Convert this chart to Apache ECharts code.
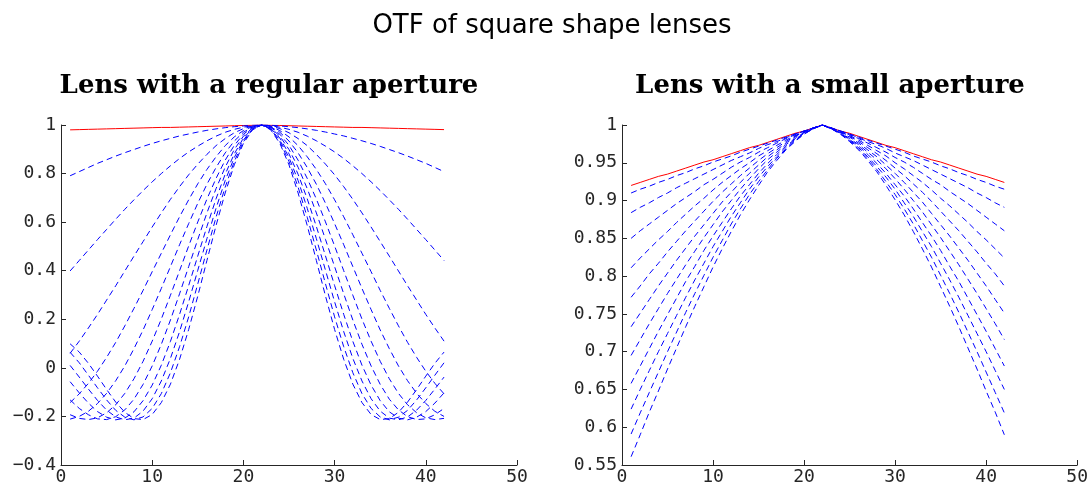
<!DOCTYPE html>
<html>
<head>
<meta charset="utf-8">
<script src="https://cdn.jsdelivr.net/npm/echarts@6/dist/echarts.min.js"></script>
<style>
html,body{margin:0;padding:0;background:#fff;}
#chart{width:1091px;height:486px;}
</style>
</head>
<body>
<div id="chart"></div>
<script>
// sample positions (x axis), shared by every curve
const xValues = [1,2,3,4,5,6,7,8,9,10,11,12,13,14,15,16,17,18,19,20,21,22,23,24,25,26,27,28,29,30,31,32,33,34,35,36,37,38,39,40,41,42];

// ---- Lens with a regular aperture ----
const regularFocus = [0.980,0.981,0.982,0.983,0.984,0.985,0.986,0.987,0.988,0.989,0.990,0.990,0.991,0.992,0.993,0.994,0.995,0.996,0.997,0.998,0.999,1,0.999,0.998,0.997,0.996,0.995,0.994,0.993,0.992,0.991,0.990,0.990,0.989,0.988,0.987,0.986,0.985,0.984,0.983,0.982,0.981];
const regular1 = [0.791,0.808,0.825,0.842,0.857,0.872,0.886,0.899,0.912,0.924,0.935,0.945,0.955,0.963,0.971,0.978,0.984,0.989,0.993,0.996,0.999,1,0.999,0.996,0.993,0.989,0.984,0.978,0.971,0.963,0.955,0.945,0.935,0.924,0.912,0.899,0.886,0.872,0.857,0.842,0.825,0.808];
const regular2 = [0.399,0.442,0.485,0.528,0.570,0.612,0.653,0.692,0.730,0.766,0.800,0.832,0.862,0.889,0.913,0.935,0.954,0.970,0.982,0.991,0.997,1,0.997,0.991,0.982,0.970,0.954,0.935,0.913,0.889,0.862,0.832,0.800,0.766,0.730,0.692,0.653,0.612,0.570,0.528,0.485,0.442];
const regular3 = [0.060,0.110,0.164,0.220,0.279,0.338,0.399,0.460,0.520,0.580,0.638,0.694,0.746,0.795,0.839,0.879,0.915,0.944,0.968,0.985,0.996,1,0.996,0.985,0.968,0.944,0.915,0.879,0.839,0.795,0.746,0.694,0.638,0.580,0.520,0.460,0.399,0.338,0.279,0.220,0.164,0.110];
const regular4 = [-0.143,-0.107,-0.064,-0.014,0.043,0.105,0.173,0.245,0.319,0.396,0.472,0.548,0.622,0.692,0.758,0.817,0.869,0.915,0.951,0.977,0.994,1,0.994,0.977,0.951,0.915,0.869,0.817,0.758,0.692,0.622,0.548,0.472,0.396,0.319,0.245,0.173,0.105,0.043,-0.014,-0.064,-0.107];
const regular5 = [-0.211,-0.200,-0.179,-0.147,-0.105,-0.053,0.008,0.079,0.156,0.240,0.327,0.417,0.507,0.594,0.678,0.756,0.825,0.885,0.934,0.970,0.992,1,0.992,0.970,0.934,0.885,0.825,0.756,0.678,0.594,0.507,0.417,0.327,0.240,0.156,0.079,0.008,-0.053,-0.105,-0.147,-0.179,-0.200];
const regular6 = [-0.193,-0.208,-0.213,-0.206,-0.185,-0.152,-0.105,-0.045,0.027,0.110,0.201,0.299,0.400,0.502,0.601,0.695,0.780,0.855,0.916,0.962,0.990,1,0.990,0.962,0.916,0.855,0.780,0.695,0.601,0.502,0.400,0.299,0.201,0.110,0.027,-0.045,-0.105,-0.152,-0.185,-0.206,-0.213,-0.208];
const regular7 = [-0.132,-0.167,-0.193,-0.210,-0.213,-0.201,-0.173,-0.129,-0.068,0.008,0.097,0.197,0.305,0.417,0.529,0.638,0.738,0.826,0.899,0.954,0.988,1,0.988,0.954,0.899,0.826,0.738,0.638,0.529,0.417,0.305,0.197,0.097,0.008,-0.068,-0.129,-0.173,-0.201,-0.213,-0.210,-0.193,-0.167];
const regular8 = [-0.057,-0.103,-0.145,-0.180,-0.203,-0.214,-0.207,-0.181,-0.135,-0.071,0.011,0.109,0.220,0.339,0.461,0.582,0.696,0.797,0.881,0.946,0.986,1,0.986,0.946,0.881,0.797,0.696,0.582,0.461,0.339,0.220,0.109,0.011,-0.071,-0.135,-0.181,-0.207,-0.214,-0.203,-0.180,-0.145,-0.103];
const regular9 = [0.010,-0.038,-0.087,-0.134,-0.174,-0.202,-0.214,-0.207,-0.178,-0.127,-0.054,0.039,0.149,0.272,0.402,0.532,0.657,0.771,0.866,0.938,0.984,1,0.984,0.938,0.866,0.771,0.657,0.532,0.402,0.272,0.149,0.039,-0.054,-0.127,-0.178,-0.207,-0.214,-0.202,-0.174,-0.134,-0.087,-0.038];
const regular10 = [0.064,0.021,-0.030,-0.082,-0.132,-0.175,-0.203,-0.214,-0.202,-0.167,-0.106,-0.020,0.087,0.210,0.346,0.485,0.620,0.744,0.850,0.931,0.982,1,0.982,0.931,0.850,0.744,0.620,0.485,0.346,0.210,0.087,-0.020,-0.106,-0.167,-0.202,-0.214,-0.203,-0.175,-0.132,-0.082,-0.030,0.021];
const regular11 = [0.099,0.065,0.019,-0.034,-0.089,-0.141,-0.183,-0.209,-0.213,-0.192,-0.143,-0.067,0.035,0.158,0.296,0.442,0.586,0.720,0.836,0.924,0.980,1,0.980,0.924,0.836,0.720,0.586,0.442,0.296,0.158,0.035,-0.067,-0.143,-0.192,-0.213,-0.209,-0.183,-0.141,-0.089,-0.034,0.019,0.065];

// ---- Lens with a small aperture ----
const smallFocus = [0.920,0.924,0.928,0.932,0.935,0.939,0.943,0.947,0.951,0.954,0.958,0.962,0.966,0.970,0.973,0.977,0.981,0.985,0.989,0.992,0.996,1,0.996,0.992,0.989,0.985,0.981,0.977,0.973,0.970,0.966,0.962,0.958,0.954,0.951,0.947,0.943,0.939,0.935,0.932,0.928,0.924];
const small1 = [0.910,0.915,0.919,0.924,0.928,0.933,0.937,0.942,0.946,0.951,0.955,0.959,0.964,0.968,0.972,0.976,0.980,0.984,0.988,0.992,0.996,1,0.996,0.992,0.988,0.984,0.980,0.976,0.972,0.968,0.964,0.959,0.955,0.951,0.946,0.942,0.937,0.933,0.928,0.924,0.919,0.915];
const small2 = [0.884,0.891,0.897,0.904,0.910,0.917,0.923,0.929,0.935,0.941,0.947,0.953,0.958,0.963,0.969,0.974,0.978,0.983,0.988,0.992,0.996,1,0.996,0.992,0.988,0.983,0.978,0.974,0.969,0.963,0.958,0.953,0.947,0.941,0.935,0.929,0.923,0.917,0.910,0.904,0.897,0.891];
const small3 = [0.850,0.860,0.869,0.878,0.887,0.896,0.904,0.912,0.921,0.928,0.936,0.944,0.951,0.957,0.964,0.970,0.976,0.982,0.987,0.992,0.996,1,0.996,0.992,0.987,0.982,0.976,0.970,0.964,0.957,0.951,0.944,0.936,0.928,0.921,0.912,0.904,0.896,0.887,0.878,0.869,0.860];
const small4 = [0.811,0.824,0.836,0.848,0.859,0.871,0.882,0.893,0.903,0.914,0.924,0.933,0.942,0.950,0.959,0.966,0.973,0.980,0.986,0.991,0.996,1,0.996,0.991,0.986,0.980,0.973,0.966,0.959,0.950,0.942,0.933,0.924,0.914,0.903,0.893,0.882,0.871,0.859,0.848,0.836,0.824];
const small5 = [0.772,0.787,0.803,0.817,0.832,0.846,0.860,0.873,0.886,0.899,0.911,0.922,0.933,0.943,0.953,0.962,0.970,0.978,0.985,0.991,0.996,1,0.996,0.991,0.985,0.978,0.970,0.962,0.953,0.943,0.933,0.922,0.911,0.899,0.886,0.873,0.860,0.846,0.832,0.817,0.803,0.787];
const small6 = [0.733,0.751,0.769,0.787,0.804,0.821,0.837,0.853,0.868,0.883,0.898,0.911,0.924,0.936,0.947,0.958,0.967,0.976,0.984,0.990,0.996,1,0.996,0.990,0.984,0.976,0.967,0.958,0.947,0.936,0.924,0.911,0.898,0.883,0.868,0.853,0.837,0.821,0.804,0.787,0.769,0.751];
const small7 = [0.695,0.716,0.737,0.757,0.777,0.796,0.815,0.833,0.851,0.868,0.885,0.900,0.915,0.929,0.942,0.954,0.964,0.974,0.982,0.990,0.995,1,0.995,0.990,0.982,0.974,0.964,0.954,0.942,0.929,0.915,0.900,0.885,0.868,0.851,0.833,0.815,0.796,0.777,0.757,0.737,0.716];
const small8 = [0.658,0.681,0.704,0.727,0.749,0.771,0.793,0.813,0.834,0.853,0.871,0.889,0.906,0.921,0.936,0.949,0.961,0.972,0.981,0.989,0.995,1,0.995,0.989,0.981,0.972,0.961,0.949,0.936,0.921,0.906,0.889,0.871,0.853,0.834,0.813,0.793,0.771,0.749,0.727,0.704,0.681];
const small9 = [0.624,0.650,0.675,0.700,0.724,0.748,0.772,0.795,0.817,0.839,0.859,0.879,0.897,0.915,0.931,0.945,0.958,0.970,0.980,0.989,0.995,1,0.995,0.989,0.980,0.970,0.958,0.945,0.931,0.915,0.897,0.879,0.859,0.839,0.817,0.795,0.772,0.748,0.724,0.700,0.675,0.650];
const small10 = [0.591,0.619,0.646,0.673,0.700,0.726,0.752,0.777,0.801,0.825,0.847,0.869,0.889,0.908,0.925,0.941,0.956,0.968,0.979,0.988,0.995,1,0.995,0.988,0.979,0.968,0.956,0.941,0.925,0.908,0.889,0.869,0.847,0.825,0.801,0.777,0.752,0.726,0.700,0.673,0.646,0.619];
const small11 = [0.561,0.590,0.620,0.648,0.677,0.705,0.733,0.760,0.786,0.812,0.836,0.859,0.881,0.901,0.920,0.938,0.953,0.967,0.978,0.988,0.995,1,0.995,0.988,0.978,0.967,0.953,0.938,0.920,0.901,0.881,0.859,0.836,0.812,0.786,0.760,0.733,0.705,0.677,0.648,0.620,0.590];

// tick settings
const xTicks = {min: 0, max: 50, interval: 10};
const yTicksRegular = {min: -0.4, max: 1, interval: 0.2};
const yTicksSmall = {min: 0.55, max: 1, interval: 0.05};

const regularBlue = [regular1, regular2, regular3, regular4, regular5, regular6, regular7, regular8, regular9, regular10, regular11];
const smallBlue = [small1, small2, small3, small4, small5, small6, small7, small8, small9, small10, small11];

const AX = '#262626';
const MONO = "'DejaVu Sans Mono', 'Liberation Mono', monospace";

function pairs(vals) { return xValues.map((x, i) => [x, vals[i]]); }
function fmt(v) { return String(Math.round(v * 100) / 100).replace('-', '\u2212'); }

function makeX(idx) {
  return {
    type: 'value', gridIndex: idx, min: xTicks.min, max: xTicks.max, interval: xTicks.interval,
    axisLine: {show: true, onZero: false, lineStyle: {color: AX, width: 1}},
    axisTick: {show: true, inside: true, length: 5, lineStyle: {color: AX}},
    axisLabel: {fontFamily: MONO, fontSize: 18, color: AX, margin: 3, formatter: fmt},
    splitLine: {show: false}
  };
}
function makeY(idx, t) {
  return {
    type: 'value', gridIndex: idx, min: t.min, max: t.max, interval: t.interval,
    axisLine: {show: true, onZero: false, lineStyle: {color: AX, width: 1}},
    axisTick: {show: true, inside: true, length: 5, lineStyle: {color: AX}},
    axisLabel: {fontFamily: MONO, fontSize: 18, color: AX, margin: 5, formatter: fmt},
    splitLine: {show: false}
  };
}

const series = [];
function addGroup(idx, focus, blues) {
  series.push({type: 'line', xAxisIndex: idx, yAxisIndex: idx, data: pairs(focus), symbol: 'none',
    lineStyle: {color: '#ff0000', width: 1}, z: 2});
  blues.forEach(b => series.push({type: 'line', xAxisIndex: idx, yAxisIndex: idx, data: pairs(b), symbol: 'none',
    lineStyle: {color: '#0000ff', width: 1, type: [6, 4]}, z: 3}));
}
addGroup(0, regularFocus, regularBlue);
addGroup(1, smallFocus, smallBlue);

const chart = echarts.init(document.getElementById('chart'), null, {renderer: 'canvas'});
chart.setOption({
  animation: false,
  backgroundColor: '#ffffff',
  title: [
    {text: 'OTF of square shape lenses', left: 552, top: 13, textAlign: 'center', padding: 0,
      textStyle: {fontFamily: "'DejaVu Sans', sans-serif", fontSize: 26, fontWeight: 'normal', color: '#000'}},
    {text: 'Lens with a regular aperture', left: 269, top: 73, textAlign: 'center', padding: 0,
      textStyle: {fontFamily: "'DejaVu Serif', serif", fontSize: 26, fontWeight: 'bold', color: '#000'}},
    {text: 'Lens with a small aperture', left: 830, top: 73, textAlign: 'center', padding: 0,
      textStyle: {fontFamily: "'DejaVu Serif', serif", fontSize: 26, fontWeight: 'bold', color: '#000'}}
  ],
  grid: [
    {left: 61, top: 125, width: 456, height: 342, containLabel: false},
    {left: 622, top: 125, width: 456, height: 342, containLabel: false}
  ],
  xAxis: [makeX(0), makeX(1)],
  yAxis: [makeY(0, yTicksRegular), makeY(1, yTicksSmall)],
  series: series
});
</script>
</body>
</html>
